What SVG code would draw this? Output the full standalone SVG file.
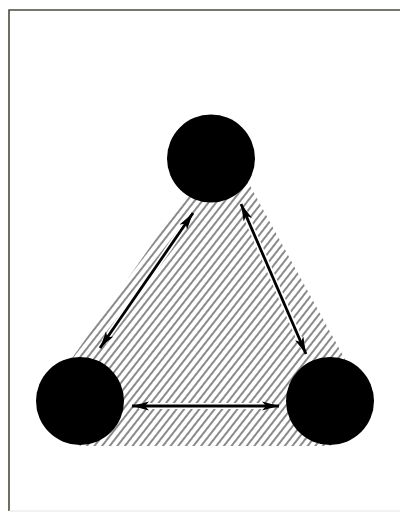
<svg xmlns="http://www.w3.org/2000/svg" width="400" height="516" viewBox="0 0 400 516">
  <defs>
    <pattern id="hatch" patternUnits="userSpaceOnUse" width="6" height="20" patternTransform="rotate(38)">
      <line x1="1" y1="-2" x2="1" y2="22" stroke="#3c3c3c" stroke-width="1.2"/>
    </pattern>
    <marker id="head" markerUnits="userSpaceOnUse" markerWidth="18" markerHeight="12" refX="17" refY="6" orient="auto-start-reverse">
      <path d="M0,1.5 L17,6 L0,10.5 L4,6 z" fill="#000"/>
    </marker>
  </defs>
  <style>
    .node { fill: #000; }
    .conn { stroke: #000; stroke-width: 2.8; fill: none; marker-start: url(#head); marker-end: url(#head); }
    .halo { stroke: #fff; stroke-width: 6; fill: none; }
  </style>
  <rect x="0" y="0" width="400" height="516" fill="#fff"/>
  <path d="M9,511 L9,10 L400,10" fill="none" stroke="#4a4a3c" stroke-width="1.6"/>
  <path d="M9,511 L400,511" fill="none" stroke="#e4e4e4" stroke-width="1"/>
  <polygon id="field" points="225,140 368,401 330,446 80,446 42,401" fill="url(#hatch)"/>
  <g id="connectors">
    <line class="halo" x1="104" y1="342" x2="189" y2="219"/>
    <line class="halo" x1="244" y1="211" x2="303" y2="347"/>
    <line class="halo" x1="139" y1="406" x2="272" y2="406"/>
    <line class="conn" x1="100" y1="348" x2="193" y2="213"/>
    <line class="conn" x1="241" y1="204" x2="306" y2="354"/>
    <line class="conn" x1="132" y1="406" x2="279" y2="406"/>
  </g>
  <g id="node-top"><circle class="node" cx="211" cy="158.5" r="44"/></g>
  <g id="node-left"><circle class="node" cx="80" cy="401" r="44"/></g>
  <g id="node-right"><circle class="node" cx="330" cy="401" r="44"/></g>
</svg>
